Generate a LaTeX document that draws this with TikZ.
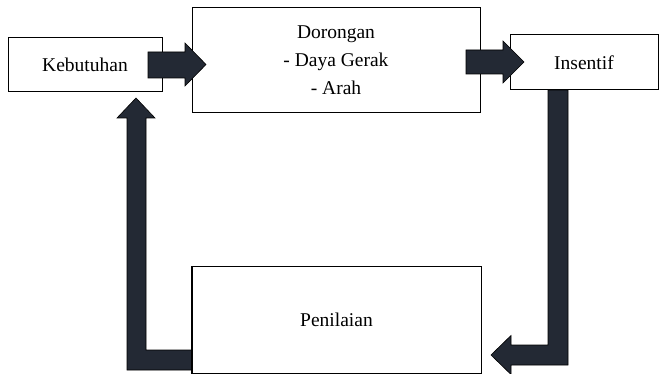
\documentclass[tikz,border=0pt]{standalone}
\usepackage{fontspec}
\setmainfont{Liberation Serif}
\definecolor{arrowfill}{RGB}{35,41,52}
\tikzset{
  box/.style={draw=black, line width=1pt, fill=white, inner sep=0pt, align=center,
    font=\fontsize{19.5}{28.2}\selectfont},
  blockarrow/.style={draw=black, line width=0.6pt, fill=arrowfill, line join=miter}
}
\begin{document}
\begin{tikzpicture}[x=1pt,y=-1pt]
\useasboundingbox (0,0) rectangle (659,374);
% boxes
\node[box, minimum width=154pt, minimum height=54pt] (keb) at (85,65) {Kebutuhan};
\node[box, minimum width=288pt, minimum height=105pt] (dor) at (336,60.5) {Dorongan\\- Daya Gerak\\- Arah};
\node[box, minimum width=148pt, minimum height=55pt] (ins) at (584,62.5) {Insentif};
\node[box, minimum width=289pt, minimum height=106pt] (pen) at (336.5,320) {Penilaian};
% arrows
\draw[blockarrow] (148,52) -- (185,52) -- (185,43) -- (206,64.5) -- (185,86) -- (185,78) -- (148,78) -- cycle;
\draw[blockarrow] (466,50) -- (503,50) -- (503,41) -- (524,62) -- (503,83) -- (503,74) -- (466,74) -- cycle;
\draw[blockarrow] (548,90) -- (568,90) -- (568,365) -- (511,365) -- (511,374.5) -- (491,355) -- (511,335.5) -- (511,345) -- (548,345) -- cycle;
\draw[blockarrow] (127,370) -- (127,118) -- (117,118) -- (136,98) -- (155,118) -- (146,118) -- (146,350) -- (192,350) -- (192,370) -- cycle;
\draw[line width=1pt] (pen.north west) -- (pen.south west);
\end{tikzpicture}
\end{document}
